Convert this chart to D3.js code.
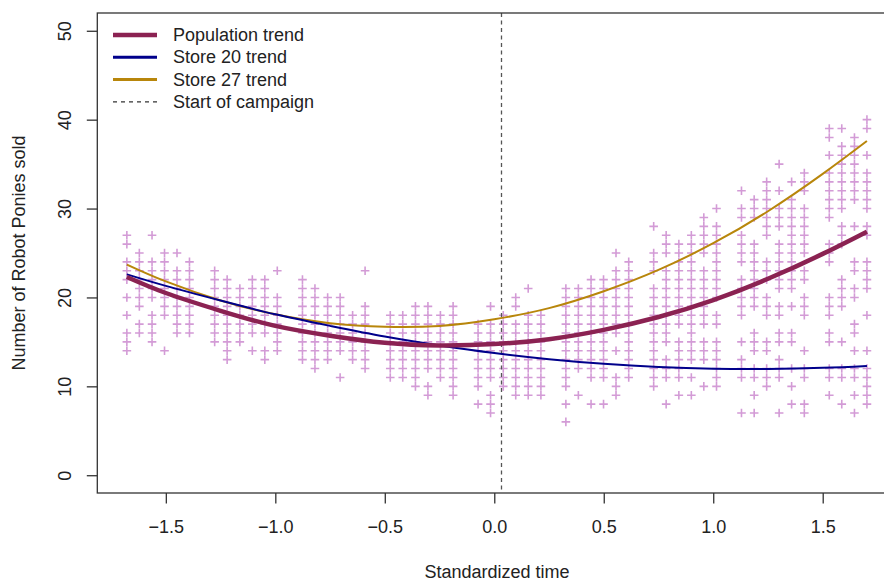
<!DOCTYPE html>
<html>
    <head>
        <meta charset="utf-8">
        <title>Robot Ponies</title>
        <style>
body {
    margin: 0;
    background-color: white;
}

svg text {
    font-family: "Liberation Sans", Arial, sans-serif;
    font-size: 18px;
    fill: #222;
}

.pt {
    stroke: #d39bd6;
    stroke-width: 1.6;
}
</style>
        <script src="https://cdn.jsdelivr.net/npm/d3@7/dist/d3.min.js"></script>
    </head>
    <body>
        <script>
var width = 884,
    height = 581;

// standardized time of each recorded day (every 7th day has no sales)
var timeStd = [-1.678, -1.621, -1.563, -1.506, -1.449, -1.392,
    -1.277, -1.220, -1.162, -1.105, -1.048, -0.991,
    -0.876, -0.819, -0.761, -0.704, -0.647, -0.590,
    -0.475, -0.418, -0.360, -0.303, -0.246, -0.188,
    -0.074, -0.017, 0.041, 0.098, 0.155, 0.213,
    0.327, 0.384, 0.442, 0.499, 0.556, 0.614,
    0.728, 0.785, 0.843, 0.900, 0.957, 1.015,
    1.129, 1.187, 1.244, 1.301, 1.358, 1.416,
    1.530, 1.587, 1.645, 1.702];

// ponies sold per store on each day (distinct values seen in each column)
var sales = [
    [27,26,24,23,22,20,18,16,15,14],
    [25,24,23,22,21,20,19,17,16],
    [27,24,23,22,21,20,18,17,16,15],
    [25,24,23,22,21,20,19,18,14],
    [25,23,22,21,20,19,18,17,16],
    [24,23,22,21,20,19,18,17,16],
    [23,22,21,20,19,18,17,16,15],
    [22,21,20,19,18,17,16,15,14,13],
    [21,20,19,18,17,16,15],
    [22,21,20,19,18,17,16,14],
    [22,21,20,19,18,17,16,14,13],
    [23,20,19,18,17,16,15,14],
    [22,21,20,19,18,17,16,15,14,13],
    [21,20,19,18,17,16,15,14,13,12],
    [20,19,18,17,16,15,14,13],
    [20,19,18,17,16,15,14,11],
    [18,17,16,15,14,13],
    [23,19,18,17,16,15,14,13,12],
    [18,17,16,15,14,13,12,11],
    [18,17,16,15,14,13,12,11],
    [19,18,17,16,15,14,13,12,11,10],
    [19,18,17,16,15,14,13,12,10,9],
    [18,17,16,15,14,13,12,11],
    [19,18,17,16,15,14,13,12,11,10,9],
    [17,16,15,14,13,12,11,10,8],
    [19,17,16,15,14,13,12,11,9,8,7],
    [18,17,16,15,14,13,12,11,10],
    [20,19,17,16,15,14,13,12,11,10,9],
    [21,18,17,16,15,14,13,12,11,10,9],
    [18,17,16,15,14,13,12,11,10,9],
    [21,20,19,18,17,16,15,14,13,12,11,10,8,6],
    [21,20,19,18,17,16,15,14,13,12,9],
    [22,21,20,19,18,17,16,15,14,13,12,11,8],
    [22,21,20,19,18,17,16,15,14,13,12,11,8],
    [25,23,22,21,20,19,18,17,16,14,11,10,9],
    [24,23,22,21,20,19,18,17,16,15,14,13,12,11],
    [28,25,24,23,21,20,19,18,17,16,15,14,13,12,11,10],
    [27,26,25,23,22,21,20,19,18,17,16,15,13,12,11,8],
    [26,25,24,23,22,21,20,19,18,17,15,14,13,12,11,9],
    [27,26,25,24,23,22,21,20,19,18,17,16,15,14,13,11,9],
    [29,28,27,26,25,23,22,21,20,19,18,17,15,14,13,10],
    [30,28,27,26,25,24,23,22,21,20,18,17,15,14,13,12,11,10],
    [32,30,29,27,26,25,24,22,21,20,19,18,15,13,12,11,7],
    [31,30,29,26,25,24,23,22,21,20,19,16,15,14,12,11,9,7],
    [33,32,31,30,29,28,27,24,23,22,20,19,18,15,14,12,11,10],
    [35,32,30,29,28,26,25,24,23,22,21,19,18,16,15,13,12,11,7],
    [33,31,30,29,28,27,26,25,24,23,22,21,19,16,15,12,10,8],
    [34,33,32,30,29,28,27,26,25,23,22,20,19,18,14,12,11,8,7],
    [39,38,36,34,33,32,31,30,29,26,25,24,20,19,18,16,15,12,11,9],
    [39,37,36,35,34,33,32,31,30,28,27,26,22,21,20,19,15,12,11,8],
    [38,37,36,35,34,33,32,31,28,24,23,21,20,17,16,14,12,11,9,7],
    [40,39,36,34,33,32,31,30,28,27,24,23,22,21,18,14,12,11,10,9,8]
];

// fitted trends
var trendX = [-1.678, -1.5, -1.25, -1.0, -0.75, -0.5, -0.25, 0, 0.25, 0.5, 0.75, 1.0, 1.25, 1.5, 1.702];
var popTrend = [22.3, 20.5, 18.5, 16.8, 15.7, 14.9, 14.6, 14.75, 15.3, 16.35, 17.8, 19.7, 22.1, 24.9, 27.4];
var store20Trend = [22.6, 21.3, 19.65, 18.1, 16.8, 15.6, 14.6, 13.75, 13.06, 12.54, 12.18, 11.98, 11.95, 12.08, 12.3];
var store27Trend = [23.7, 21.8, 19.66, 18.1, 17.1, 16.7, 16.8, 17.55, 18.8, 20.7, 23.1, 26.1, 29.7, 33.9, 37.6];

var campaignStart = 0.033;

var xTicks = [-1.5, -1.0, -0.5, 0.0, 0.5, 1.0, 1.5];
var yTicks = [0, 10, 20, 30, 40, 50];

var legendLabels = ['Population trend', 'Store 20 trend', 'Store 27 trend', 'Start of campaign'];

var colPop = '#8b2252',
    col20 = '#00008b',
    col27 = '#b8860b';

var box = {left: 97.3, right: 896.5, top: 13, bottom: 493};

var x = d3.scaleLinear().domain([-1.813, 1.837]).range([box.left, box.right]);
var y = d3.scaleLinear().domain([-2, 52]).range([box.bottom, box.top]);

var svg = d3.select('body')
    .append('svg')
    .attr('width', width)
    .attr('height', height);

// points
var points = [];
sales.forEach(function (vals, i) {
    vals.forEach(function (v) {
        points.push({t: timeStd[i], n: v});
    });
});

var arm = 4.3;
svg.append('g')
    .selectAll('path')
    .data(points)
    .enter()
    .append('path')
    .attr('class', 'pt')
    .attr('d', function (d) {
        var px = x(d.t), py = y(d.n);
        return 'M' + (px - arm) + ',' + py + 'H' + (px + arm) +
            'M' + px + ',' + (py - arm) + 'V' + (py + arm);
    });

// campaign line
svg.append('line')
    .attr('x1', x(campaignStart))
    .attr('x2', x(campaignStart))
    .attr('y1', box.top)
    .attr('y2', box.bottom)
    .attr('stroke', '#555')
    .attr('stroke-width', 1.3)
    .attr('stroke-dasharray', '4,3.5');

var line = d3.line()
    .x(function (d, i) { return x(trendX[i]); })
    .y(function (d) { return y(d); })
    .curve(d3.curveNatural);

svg.append('path').attr('d', line(store27Trend))
    .attr('fill', 'none').attr('stroke', col27).attr('stroke-width', 2);
svg.append('path').attr('d', line(store20Trend))
    .attr('fill', 'none').attr('stroke', col20).attr('stroke-width', 2);
svg.append('path').attr('d', line(popTrend))
    .attr('fill', 'none').attr('stroke', colPop).attr('stroke-width', 4.5);

// box
svg.append('rect')
    .attr('x', box.left)
    .attr('y', box.top)
    .attr('width', box.right - box.left)
    .attr('height', box.bottom - box.top)
    .attr('fill', 'none')
    .attr('stroke', '#333')
    .attr('stroke-width', 1.3);

// axes
var xAxis = svg.append('g')
    .attr('transform', 'translate(0,' + box.bottom + ')')
    .call(d3.axisBottom(x).tickValues(xTicks).tickSize(10.5).tickSizeOuter(0)
        .tickFormat(function (d) { return d3.format('.1f')(d).replace('-', '\u2212'); }));
xAxis.select('.domain').remove();
xAxis.selectAll('line').attr('stroke', '#333').attr('stroke-width', 1.3);
xAxis.selectAll('text')
    .attr('y', 34)
    .attr('dy', '0.35em')
    .style('font-size', '18px')
    .style('font-family', '"Liberation Sans", Arial, sans-serif')
    .attr('fill', '#222');

var yAxis = svg.append('g')
    .attr('transform', 'translate(' + box.left + ',0)')
    .call(d3.axisLeft(y).tickValues(yTicks).tickSize(10.5).tickSizeOuter(0));
yAxis.select('.domain').remove();
yAxis.selectAll('line').attr('stroke', '#333').attr('stroke-width', 1.3);
yAxis.selectAll('text')
    .attr('x', null)
    .attr('dy', null)
    .attr('text-anchor', 'middle')
    .attr('transform', 'translate(-32,0) rotate(-90)')
    .attr('dominant-baseline', 'central')
    .style('font-size', '18px')
    .style('font-family', '"Liberation Sans", Arial, sans-serif')
    .attr('fill', '#222');

// titles
svg.append('text')
    .attr('x', 497)
    .attr('y', 572)
    .attr('text-anchor', 'middle')
    .attr('dominant-baseline', 'central')
    .text('Standardized time');

svg.append('text')
    .attr('transform', 'translate(19,253) rotate(-90)')
    .attr('text-anchor', 'middle')
    .attr('dominant-baseline', 'central')
    .text('Number of Robot Ponies sold');

// legend
var legendStyle = [
    {c: colPop, w: 4.5, dash: null},
    {c: col20, w: 3, dash: null},
    {c: col27, w: 3, dash: null},
    {c: '#333', w: 1.2, dash: '4,4'}
];
var lg = svg.append('g');
legendLabels.forEach(function (lab, i) {
    var ly = 35 + i * 22.3;
    lg.append('line')
        .attr('x1', 113).attr('x2', 157)
        .attr('y1', ly).attr('y2', ly)
        .attr('stroke', legendStyle[i].c)
        .attr('stroke-width', legendStyle[i].w)
        .attr('stroke-dasharray', legendStyle[i].dash);
    lg.append('text')
        .attr('x', 173)
        .attr('y', ly)
        .attr('dominant-baseline', 'central')
        .text(lab);
});

        </script>
    </body>
</html>
